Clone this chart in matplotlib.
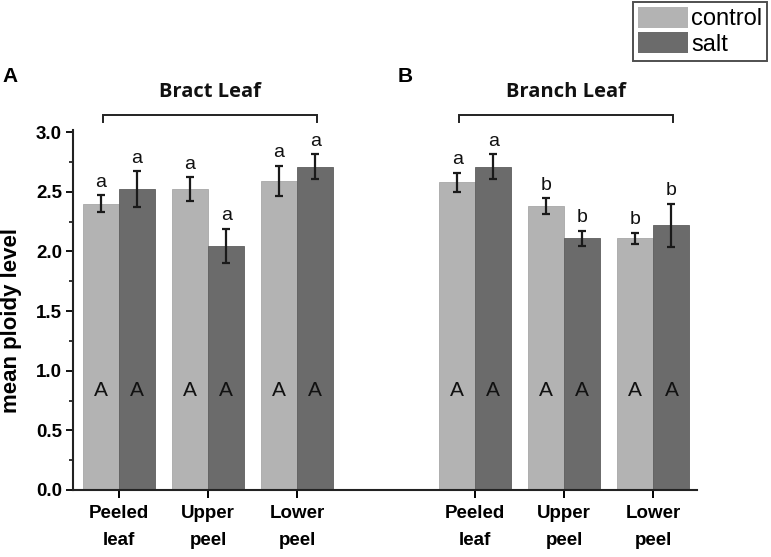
import numpy as np
import matplotlib.pyplot as plt
from matplotlib.patches import Patch
from matplotlib.ticker import MultipleLocator

# data: mean ploidy level +/- error
groups = ['Peeled\nleaf', 'Upper\npeel', 'Lower\npeel', 'Peeled\nleaf', 'Upper\npeel', 'Lower\npeel']
pos = np.array([0, 1, 2, 4, 5, 6])
control = np.array([2.40, 2.52, 2.59, 2.58, 2.38, 2.11])
control_err = np.array([0.07, 0.10, 0.125, 0.08, 0.065, 0.045])
salt = np.array([2.52, 2.045, 2.71, 2.71, 2.11, 2.22])
salt_err = np.array([0.15, 0.145, 0.105, 0.105, 0.065, 0.18])
control_letters = ['a', 'a', 'a', 'a', 'b', 'b']
salt_letters = ['a', 'a', 'a', 'a', 'b', 'b']
inner_letters = ['A'] * 6
panels = [('A', 'Bract Leaf', [0, 1, 2]), ('B', 'Branch Leaf', [4, 5, 6])]

c_light = '#b3b3b3'
c_dark = '#6b6b6b'
w = 0.405

fig = plt.figure(figsize=(7.71, 5.57), dpi=100)
ax = fig.add_axes([73 / 771, 1 - 490 / 557, (697 - 73) / 771, (490 - 129.7) / 557])

ax.bar(pos - w / 2, control, w, color=c_light, edgecolor='#a8a8a8', linewidth=0.6, label='control')
ax.bar(pos + w / 2, salt, w, color=c_dark, edgecolor='#5e5e5e', linewidth=0.6, label='salt')
ax.errorbar(pos - w / 2, control, yerr=control_err, fmt='none', ecolor='#1a1a1a',
            elinewidth=1.6, capsize=3, capthick=1.6)
ax.errorbar(pos + w / 2, salt, yerr=salt_err, fmt='none', ecolor='#1a1a1a',
            elinewidth=1.6, capsize=3, capthick=1.6)

for i in range(len(pos)):
    ax.text(pos[i] - w / 2, control[i] + control_err[i] + 0.11, control_letters[i],
            ha='center', va='center', fontsize=14, family='Liberation Sans', color='#111111')
    ax.text(pos[i] + w / 2, salt[i] + salt_err[i] + 0.11, salt_letters[i],
            ha='center', va='center', fontsize=14, family='Liberation Sans', color='#111111')
    ax.text(pos[i] - w / 2, 0.83, inner_letters[i], ha='center', va='center',
            fontsize=15, family='Liberation Sans', color='#111111')
    ax.text(pos[i] + w / 2, 0.83, inner_letters[i], ha='center', va='center',
            fontsize=15, family='Liberation Sans', color='#111111')

# brackets and panel titles
for letter, title, idx in panels:
    x0, x1 = min(idx) - 0.18, max(idx) + 0.22
    ax.plot([x0, x0, x1, x1], [3.085, 3.14, 3.14, 3.085], color='#222222', lw=1.4,
            clip_on=False, solid_joinstyle='miter')
    ax.text((x0 + x1) / 2, 3.34, title, ha='center', va='center', fontsize=14.5,
            fontweight='bold', family='Open Sans', color='#111111')
fig.text(2 / 771, 1 - 77 / 557, 'A', ha='left', va='center', fontsize=15,
         fontweight='bold', family='Liberation Sans')
fig.text(398 / 771, 1 - 77 / 557, 'B', ha='left', va='center', fontsize=15,
         fontweight='bold', family='Liberation Sans')

ax.set_xlim(-0.517, 6.49)
ax.set_ylim(0, 3.02)
ax.yaxis.set_major_locator(MultipleLocator(0.5))
ax.yaxis.set_minor_locator(MultipleLocator(0.25))
ax.set_xticks(pos)
ax.set_xticklabels(groups, fontsize=13.5, fontweight='bold', family='Liberation Sans',
                   linespacing=1.75)
ax.set_yticklabels([f'{v:.1f}' for v in ax.get_yticks()], fontsize=13.5,
                   fontweight='bold', family='Liberation Sans')
ax.set_ylabel('mean ploidy level', fontsize=16, fontweight='bold',
              family='Liberation Sans')
ax.yaxis.set_label_coords(-0.082, 0.47)
for s in ['top', 'right']:
    ax.spines[s].set_visible(False)
for s in ['left', 'bottom']:
    ax.spines[s].set_linewidth(1.5)
    ax.spines[s].set_color('#222222')
ax.tick_params(axis='y', which='major', length=5, width=1.3, direction='out', pad=3)
ax.tick_params(axis='y', which='minor', length=3, width=1.1, direction='out')
ax.tick_params(axis='x', length=6, width=1.4, direction='out', pad=5)

handles = [Patch(facecolor=c_light, edgecolor='none'), Patch(facecolor=c_dark, edgecolor='none')]
leg = ax.legend(handles, ['control', 'salt'], loc='upper right',
                bbox_to_anchor=(767 / 771, 1 - 2 / 557), bbox_transform=fig.transFigure,
                frameon=True, fancybox=False, borderpad=0.2, borderaxespad=0,
                handlelength=2.1, handleheight=1.0, labelspacing=0.08, handletextpad=0.15,
                prop={'family': 'Liberation Sans', 'size': 17})
leg.get_frame().set_edgecolor('#222222')
leg.get_frame().set_linewidth(1.4)

fig.savefig('out.png', dpi=100)
